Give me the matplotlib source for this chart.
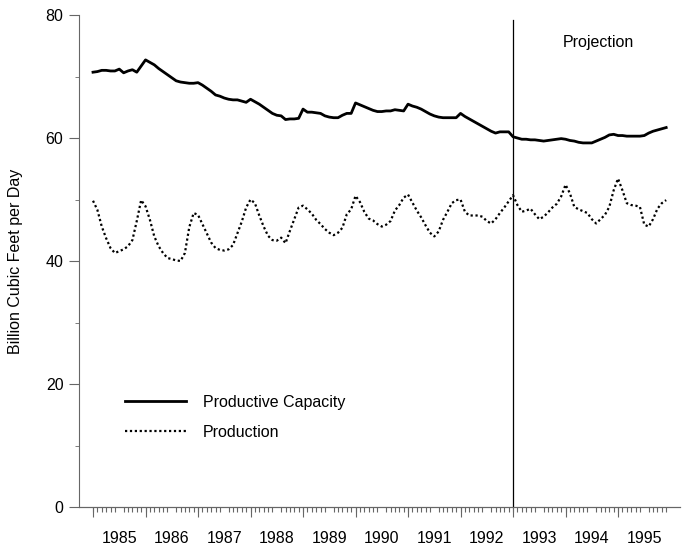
import numpy as np
import matplotlib
matplotlib.use("Agg")
import matplotlib.pyplot as plt
from matplotlib.ticker import FixedLocator, NullFormatter

plt.rcParams['font.family'] = ['Liberation Sans', 'DejaVu Sans']

start_year = 1985
years = list(range(1985, 1996))
projection_start = 1993.0

capacity = [
    70.7, 70.8, 71.0, 71.0, 70.9, 70.9, 71.2, 70.6, 70.9, 71.1, 70.7, 71.7,
    72.7, 72.3, 71.9, 71.3, 70.8, 70.3, 69.8, 69.3, 69.1, 69.0, 68.9, 68.9,
    69.0, 68.6, 68.1, 67.6, 67.0, 66.8, 66.5, 66.3, 66.2, 66.2, 66.0, 65.8,
    66.3, 65.9, 65.5, 65.0, 64.5, 64.0, 63.7, 63.6, 63.0, 63.1, 63.1, 63.2,
    64.7, 64.2, 64.2, 64.1, 64.0, 63.6, 63.4, 63.3, 63.3, 63.7, 64.0, 64.0,
    65.7, 65.4, 65.1, 64.8, 64.5, 64.3, 64.3, 64.4, 64.4, 64.6, 64.5, 64.4,
    65.5, 65.2, 65.0, 64.7, 64.3, 63.9, 63.6, 63.4, 63.3, 63.3, 63.3, 63.3,
    64.0, 63.5, 63.1, 62.7, 62.3, 61.9, 61.5, 61.1, 60.8, 61.0, 61.0, 61.0,
    60.2, 60.0, 59.8, 59.8, 59.7, 59.7, 59.6, 59.5, 59.6, 59.7, 59.8, 59.9,
    59.8, 59.6, 59.5, 59.3, 59.2, 59.2, 59.2, 59.5, 59.8, 60.1, 60.5, 60.6,
    60.4, 60.4, 60.3, 60.3, 60.3, 60.3, 60.4, 60.8, 61.1, 61.3, 61.5, 61.7,
]

production = [
    49.8, 48.3, 45.6, 43.7, 42.1, 41.3, 41.6, 41.9, 42.4, 43.4, 46.5, 49.9,
    48.9, 46.7, 44.0, 42.4, 41.3, 40.5, 40.3, 40.1, 40.0, 41.3, 45.5, 47.8,
    47.5, 46.0, 44.5, 43.0, 42.1, 41.8, 41.7, 41.9, 42.6, 44.5, 46.4, 48.7,
    50.0, 49.4, 47.4, 45.6, 44.1, 43.4, 43.3, 43.8, 42.9, 44.9, 46.8, 48.7,
    49.0, 48.4, 47.7, 46.7, 46.0, 45.2, 44.6, 44.2, 44.6, 45.4, 47.6, 48.4,
    50.6, 49.6, 48.0, 46.9, 46.6, 46.0, 45.6, 45.9, 46.5, 48.2, 49.1, 50.3,
    50.8, 49.5, 48.2, 47.1, 45.8, 44.6, 44.0, 44.8, 46.7, 48.0, 49.4, 49.9,
    50.0, 48.0, 47.4, 47.4, 47.4, 47.2, 46.5, 46.1, 46.8, 47.8, 48.7, 49.7,
    50.7, 49.1, 48.0, 48.2, 48.5, 47.6, 46.8, 47.2, 47.9, 48.7, 49.3, 50.5,
    52.4, 51.0, 48.8, 48.4, 48.1, 47.8, 46.8, 46.1, 46.8, 47.5, 48.8, 51.5,
    53.4, 51.5, 49.4, 49.1, 49.0, 48.8, 45.9, 45.6, 46.8, 48.5, 49.4, 49.9,
]

y_ticks = [0, 20, 40, 60, 80]

t = start_year + np.arange(len(capacity)) / 12.0

fs = 11.5
fig = plt.figure(figsize=(6.84, 5.46), dpi=100)
ax = fig.add_axes([79 / 684, 39 / 546, 601 / 684, 492 / 546])

ax.plot(t, capacity, color='black', lw=2.0, solid_joinstyle='round',
        label='Productive Capacity')
ax.plot(t, production, color='black', lw=1.6, linestyle=(0, (1, 1.2)),
        label='Production')

ax.axvline(projection_start, ymin=0, ymax=0.99, color='black', lw=0.9)
ax.text(1994.62, 75.6, 'Projection', ha='center', va='center', fontsize=fs)

ax.set_xlim(1984.733, 1996.18)
ax.set_ylim(0, 80)

for s in ['top', 'right']:
    ax.spines[s].set_visible(False)
spc = '#666666'
ax.spines['left'].set_color(spc)
ax.spines['bottom'].set_color(spc)

# y axis
ax.set_yticks(y_ticks)
ax.set_yticklabels([str(v) for v in y_ticks], fontsize=fs)
ax.yaxis.set_minor_locator(FixedLocator([10, 30, 50, 70]))
ax.tick_params(axis='y', which='major', direction='out', length=7.2,
               color=spc, pad=4)
ax.tick_params(axis='y', which='minor', direction='out', length=3,
               color=spc)
ax.set_ylabel('Billion Cubic Feet per Day', fontsize=fs, labelpad=16)

# x axis: year labels at mid-year, monthly minor ticks
months = start_year + np.arange(0, len(capacity)) / 12.0
ax.set_xticks([y + 0.5 for y in years])
ax.set_xticklabels([str(y) for y in years], fontsize=fs)
ax.xaxis.set_minor_locator(FixedLocator(months))
ax.xaxis.set_minor_formatter(NullFormatter())
ax.tick_params(axis='x', which='major', length=0, pad=17)
ax.tick_params(axis='x', which='minor', direction='out', length=3.6,
               color=spc, width=0.8)

sec = ax.secondary_xaxis('bottom')
sec.set_xticks(years)
sec.set_xticklabels([''] * len(years))
sec.tick_params(axis='x', which='major', direction='out', length=7.2,
                color=spc, width=0.8)
sec.spines['bottom'].set_color(spc)

leg = ax.legend(loc='upper left', bbox_to_anchor=(0.0765, 0.228),
                frameon=False, fontsize=fs, handlelength=3.8,
                handletextpad=1.1, labelspacing=0.95, borderpad=0,
                borderaxespad=0)

fig.savefig('out.png', dpi=100)
